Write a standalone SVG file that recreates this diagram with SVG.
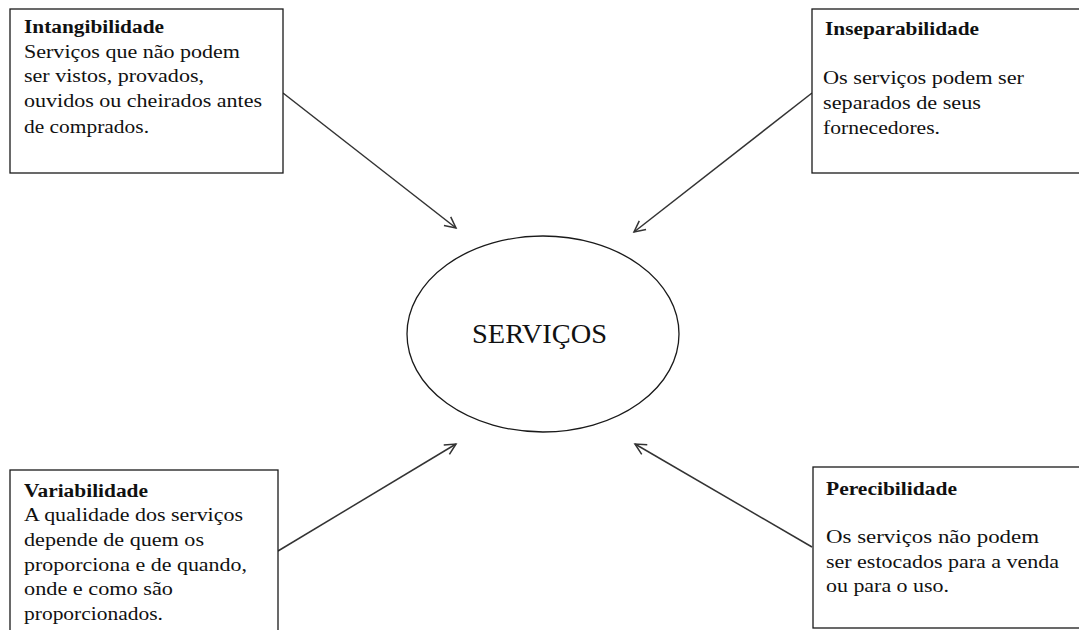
<svg xmlns="http://www.w3.org/2000/svg" width="1079" height="630" viewBox="0 0 1079 630">
  <defs>
    <style>
      .box { fill: #ffffff; stroke: #1a1a1a; stroke-width: 1.3; }
      .hub { fill: #ffffff; stroke: #1a1a1a; stroke-width: 1.3; }
      .link { fill: none; stroke: #333333; stroke-width: 1.5; }
      .title { font-family: "Liberation Serif", "Times New Roman", serif; font-size: 18px; font-weight: bold; fill: #111111; }
      .body { font-family: "Liberation Serif", "Times New Roman", serif; font-size: 18px; fill: #111111; }
      .center { font-family: "Liberation Serif", "Times New Roman", serif; font-size: 27px; fill: #111111; }
    </style>
    <marker id="arrow" markerUnits="userSpaceOnUse" markerWidth="16" markerHeight="16" viewBox="-14 -8 16 16" refX="0" refY="0" orient="auto">
      <path d="M -11 -5.5 L 0 0 L -11 5.5" fill="none" stroke="#333333" stroke-width="1.5"/>
    </marker>
  </defs>

  <rect width="1079" height="630" fill="#ffffff"/>

  <!-- connectors: each quality box points at the central ellipse -->
  <g id="connectors">
    <line class="link" x1="283" y1="93" x2="456" y2="228" marker-end="url(#arrow)"/>
    <line class="link" x1="812" y1="93" x2="634" y2="232" marker-end="url(#arrow)"/>
    <line class="link" x1="278" y1="551" x2="456" y2="444" marker-end="url(#arrow)"/>
    <line class="link" x1="812" y1="547" x2="635" y2="444" marker-end="url(#arrow)"/>
  </g>

  <g id="servicos">
    <ellipse class="hub" cx="543" cy="334" rx="136" ry="98"/>
    <text class="center" x="472" y="343" textLength="135" lengthAdjust="spacingAndGlyphs">SERVIÇOS</text>
  </g>

  <g id="intangibilidade">
    <rect class="box" x="10" y="9" width="273" height="164"/>
    <text class="title" x="24" y="33" textLength="140" lengthAdjust="spacingAndGlyphs">Intangibilidade</text>
    <text class="body" x="24" y="58" textLength="216" lengthAdjust="spacingAndGlyphs">Serviços  que não podem</text>
    <text class="body" x="24" y="82" textLength="180" lengthAdjust="spacingAndGlyphs">ser vistos, provados,</text>
    <text class="body" x="24" y="107" textLength="238" lengthAdjust="spacingAndGlyphs">ouvidos  ou cheirados  antes</text>
    <text class="body" x="24" y="133" textLength="125" lengthAdjust="spacingAndGlyphs">de comprados.</text>
  </g>

  <g id="inseparabilidade">
    <rect class="box" x="812" y="9" width="272" height="164"/>
    <text class="title" x="825" y="35" textLength="154" lengthAdjust="spacingAndGlyphs">Inseparabilidade</text>
    <text class="body" x="823" y="84" textLength="201" lengthAdjust="spacingAndGlyphs">Os serviços  podem ser</text>
    <text class="body" x="823" y="109" textLength="158" lengthAdjust="spacingAndGlyphs">separados de seus</text>
    <text class="body" x="823" y="134" textLength="117" lengthAdjust="spacingAndGlyphs">fornecedores.</text>
  </g>

  <g id="variabilidade">
    <rect class="box" x="10" y="470" width="268" height="170"/>
    <text class="title" x="24" y="497" textLength="124" lengthAdjust="spacingAndGlyphs">Variabilidade</text>
    <text class="body" x="24" y="521" textLength="219" lengthAdjust="spacingAndGlyphs">A qualidade  dos serviços</text>
    <text class="body" x="24" y="546" textLength="180" lengthAdjust="spacingAndGlyphs">depende de quem  os</text>
    <text class="body" x="24" y="571" textLength="223" lengthAdjust="spacingAndGlyphs">proporciona  e de quando,</text>
    <text class="body" x="24" y="595" textLength="149" lengthAdjust="spacingAndGlyphs">onde e como  são</text>
    <text class="body" x="24" y="620" textLength="139" lengthAdjust="spacingAndGlyphs">proporcionados.</text>
  </g>

  <g id="perecibilidade">
    <rect class="box" x="813" y="467" width="272" height="161"/>
    <text class="title" x="826" y="495" textLength="131" lengthAdjust="spacingAndGlyphs">Perecibilidade</text>
    <text class="body" x="826" y="543" textLength="213" lengthAdjust="spacingAndGlyphs">Os serviços  não podem</text>
    <text class="body" x="826" y="568" textLength="233" lengthAdjust="spacingAndGlyphs">ser estocados para a venda</text>
    <text class="body" x="826" y="592" textLength="123" lengthAdjust="spacingAndGlyphs">ou para o uso.</text>
  </g>
</svg>
